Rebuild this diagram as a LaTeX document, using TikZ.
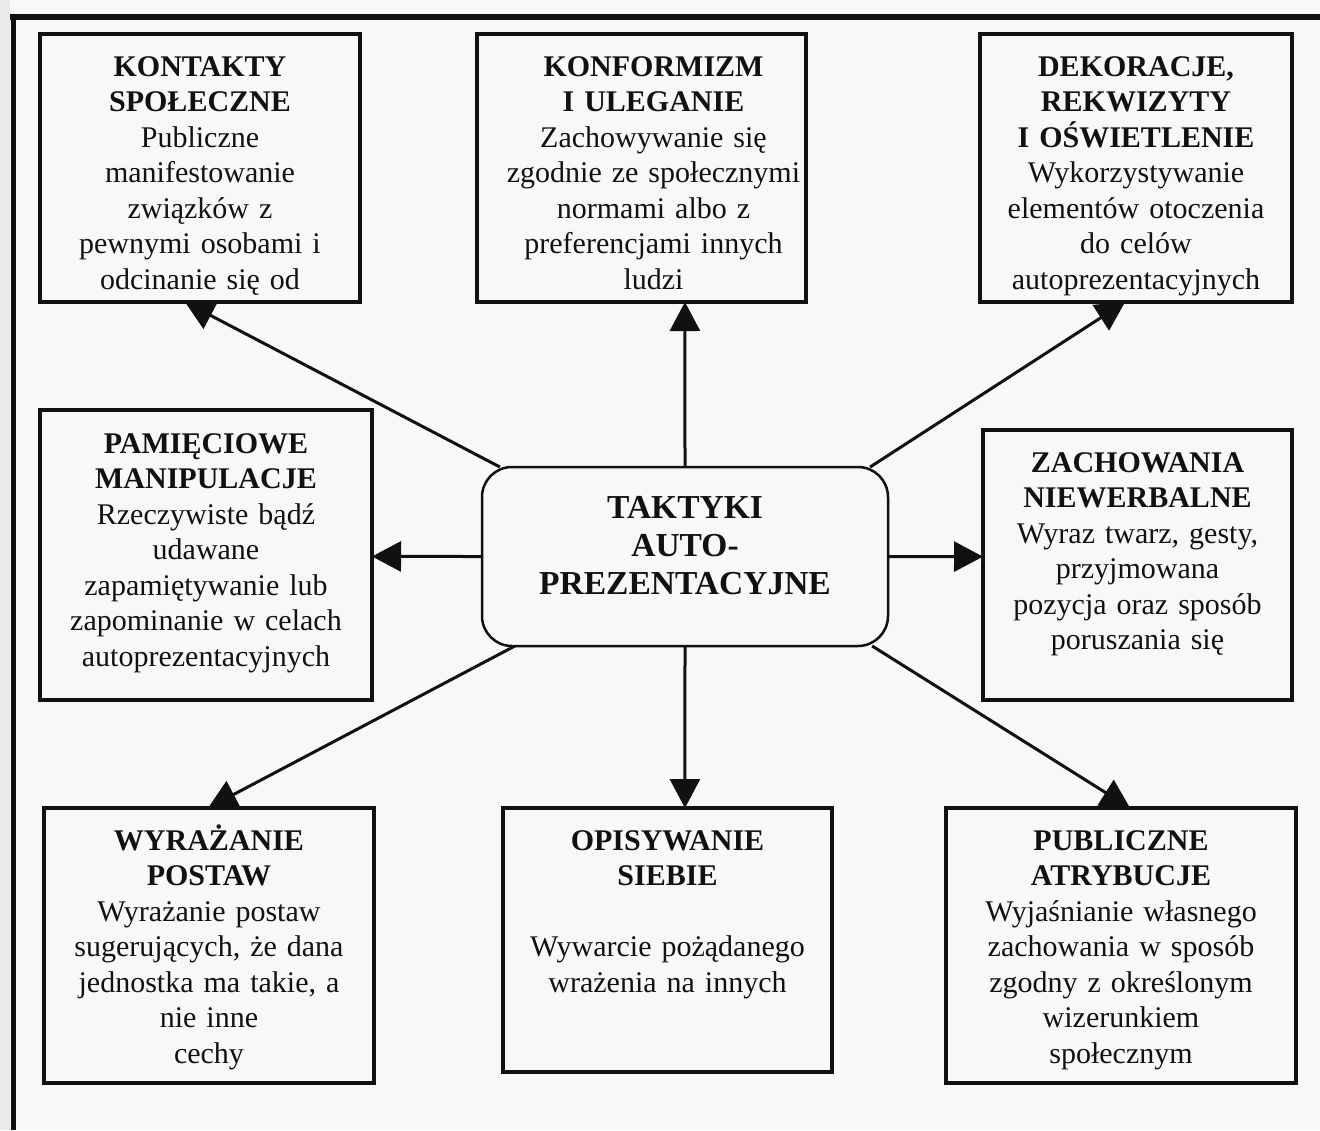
\documentclass[tikz,border=0pt]{standalone}
\usepackage{fontspec}
\setmainfont{Liberation Serif}
\usetikzlibrary{arrows.meta,calc}
\pgfdeclarelayer{bg}
\pgfsetlayers{bg,main}
\definecolor{paper}{RGB}{246,248,249}
\definecolor{edge}{RGB}{233,235,236}
\definecolor{ink}{RGB}{17,17,17}

\begin{document}
\begin{tikzpicture}[x=1pt,y=-1pt,
  box/.style={draw=ink, line width=4pt, fill=paper, anchor=north west, inner sep=0pt, outer sep=0pt},
  hub/.style={draw=ink, line width=2.5pt, fill=paper, rounded corners=30pt, inner sep=0pt, outer sep=0pt,
    minimum width=406pt, minimum height=179pt},
  txt/.style={anchor=base, align=center, inner sep=0pt, text=ink,
    font=\fontsize{30}{35.5}\selectfont},
  hubtxt/.style={anchor=base, align=center, inner sep=0pt, text=ink,
    font=\fontsize{33.5}{38}\selectfont\bfseries},
  link/.style={draw=ink, line width=3pt, -{Triangle[length=29pt,width=30pt]}},
  frame/.style={draw=ink, line cap=butt},
]
\useasboundingbox (0,0) rectangle (1320,1130);

% central rounded box
\node[hub] (hub) at (685,556.5) {};
\node[hubtxt, text width=406pt] (hub-t) at (685,518)
  {TAKTYKI\\AUTO-\\PREZENTACYJNE};

% top row
\node[box, minimum width=320pt, minimum height=268pt] (kon) at (40,34) {};
\node[txt, text width=320pt] (kon-t) at ($(kon.north)+(0,42)$)
  {\textbf{KONTAKTY}\\\textbf{SPOŁECZNE}\\Publiczne\\manifestowanie\\związków z\\pewnymi osobami i\\odcinanie się od};

\node[box, minimum width=329pt, minimum height=268pt] (konf) at (477,34) {};
\node[txt, text width=329pt] (konf-t) at ($(konf.north)+(12,42)$)
  {\textbf{KONFORMIZM}\\\textbf{I ULEGANIE}\\Zachowywanie się\\zgodnie ze społecznymi\\normami albo z\\preferencjami innych\\ludzi};

\node[box, minimum width=312pt, minimum height=268pt] (dek) at (980,34) {};
\node[txt, text width=312pt] (dek-t) at ($(dek.north)+(0,42)$)
  {\textbf{DEKORACJE,}\\\textbf{REKWIZYTY}\\\textbf{I OŚWIETLENIE}\\Wykorzystywanie\\elementów otoczenia\\do celów\\autoprezentacyjnych};

% middle row
\node[box, minimum width=332pt, minimum height=290pt] (pam) at (40,410) {};
\node[txt, text width=332pt] (pam-t) at ($(pam.north)+(0,43)$)
  {\textbf{PAMIĘCIOWE}\\\textbf{MANIPULACJE}\\Rzeczywiste bądź\\udawane\\zapamiętywanie lub\\zapominanie w celach\\autoprezentacyjnych};

\node[box, minimum width=309pt, minimum height=270pt] (zach) at (983,430) {};
\node[txt, text width=309pt] (zach-t) at ($(zach.north)+(0,42)$)
  {\textbf{ZACHOWANIA}\\\textbf{NIEWERBALNE}\\Wyraz twarz, gesty,\\przyjmowana\\pozycja oraz sposób\\poruszania się};

% bottom row
\node[box, minimum width=330pt, minimum height=275pt] (wyr) at (44,808) {};
\node[txt, text width=330pt] (wyr-t) at ($(wyr.north)+(0,42)$)
  {\textbf{WYRAŻANIE}\\\textbf{POSTAW}\\Wyrażanie postaw\\sugerujących, że dana\\jednostka ma takie, a\\nie inne\\cechy};

\node[box, minimum width=329pt, minimum height=264pt] (opis) at (503,808) {};
\node[txt, text width=329pt] (opis-t) at ($(opis.north)+(0,42)$)
  {\textbf{OPISYWANIE}\\\textbf{SIEBIE}\\[35.5pt]Wywarcie pożądanego\\wrażenia na innych};

\node[box, minimum width=350pt, minimum height=275pt] (pub) at (946,808) {};
\node[txt, text width=350pt] (pub-t) at ($(pub.north)+(0,42)$)
  {\textbf{PUBLICZNE}\\\textbf{ATRYBUCJE}\\Wyjaśnianie własnego\\zachowania w sposób\\zgodny z określonym\\wizerunkiem\\społecznym};

\begin{pgfonlayer}{bg}
  % sheet and its scanned frame
  \fill[paper] (0,0) rectangle (1320,1130);
  \fill[edge] (0,0) rectangle (10,1130);
  \draw[frame, line width=6pt] (10,16.5) -- (1320,16.5);
  \draw[frame, line width=5pt] (13,13.5) -- (13,1130);

  % connectors from the central box
  \draw[link] ($(hub.north west)!0.044!(hub.north east)$) -- ($(kon.south west)!0.453!(kon.south east)$);
  \draw[link] (hub.north) -- ($(konf.south west)!0.632!(konf.south east)$);
  \draw[link] ($(hub.north west)!0.956!(hub.north east)$) -- ($(dek.south west)!0.465!(dek.south east)$);
  \draw[link] (hub.west) -- ($(pam.north east)!0.505!(pam.south east)$);
  \draw[link] (hub.east) -- ($(zach.north west)!0.469!(zach.south west)$);
  \draw[link] ($(hub.south west)!0.081!(hub.south east)$) -- ($(wyr.north west)!0.497!(wyr.north east)$);
  \draw[link] (hub.south) -- ($(opis.north west)!0.553!(opis.north east)$);
  \draw[link] ($(hub.south west)!0.961!(hub.south east)$) -- ($(pub.north west)!0.526!(pub.north east)$);
\end{pgfonlayer}
\end{tikzpicture}
\end{document}
